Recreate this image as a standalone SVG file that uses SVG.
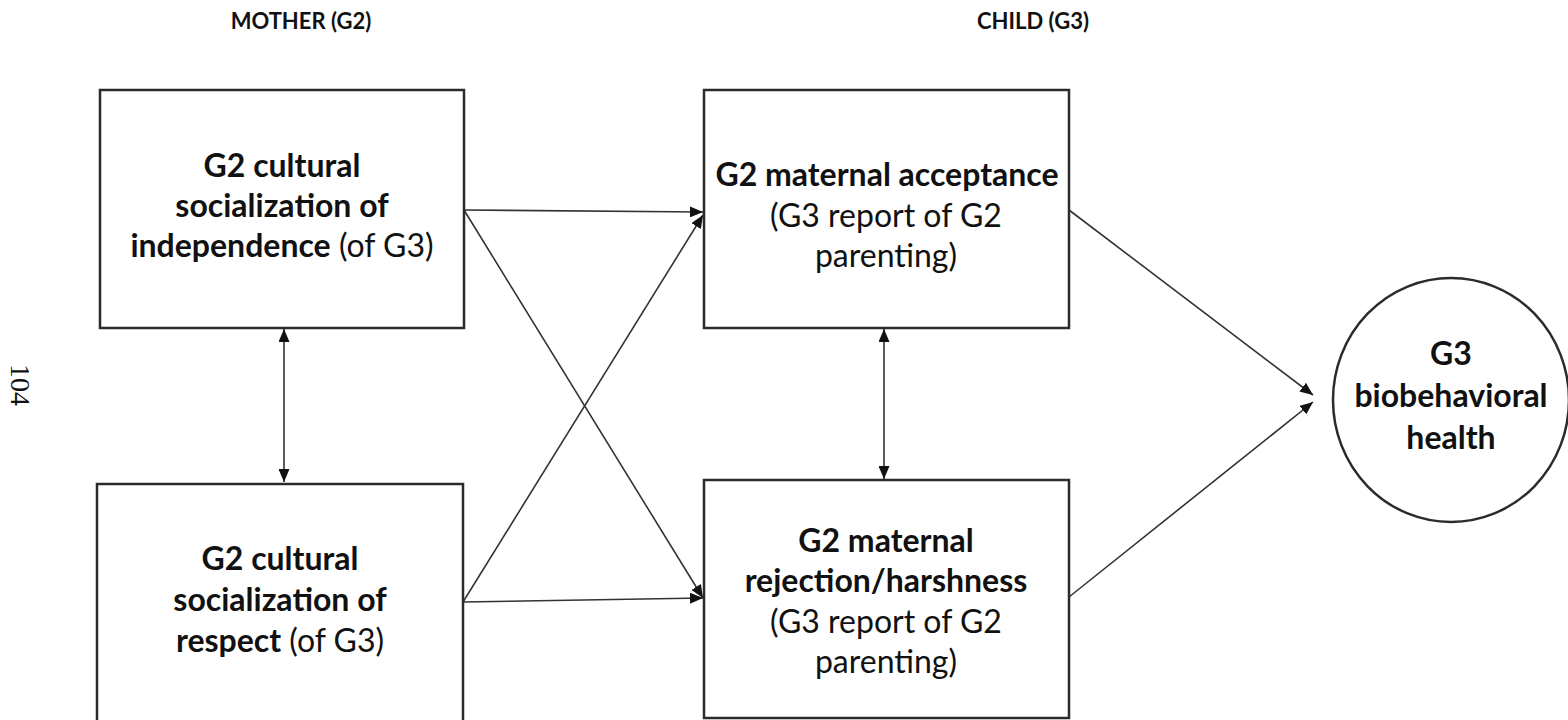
<svg xmlns="http://www.w3.org/2000/svg" width="1568" height="720" viewBox="0 0 1568 720">
  <style>
    .box { fill: #ffffff; stroke: #2b2b2b; stroke-width: 2.5; }
    .edge { fill: none; stroke: #333333; stroke-width: 1.6; }
    .t { font-family: Lato, "Open Sans", sans-serif; font-size: 32px; fill: #111; text-anchor: middle; }
    .b { font-weight: bold; }
    .hdr { font-family: Lato, "Open Sans", sans-serif; font-size: 22px; font-weight: bold; fill: #111; text-anchor: middle; }
    .pg { font-family: "Liberation Serif", serif; font-size: 28px; fill: #111; }
  </style>
  <defs>
    <marker id="arrow" viewBox="0 0 13 11" refX="13" refY="5.5" markerWidth="13" markerHeight="11" markerUnits="userSpaceOnUse" orient="auto-start-reverse">
      <path d="M0,0 L13,5.5 L0,11 z" fill="#111"/>
    </marker>
  </defs>

  <rect width="1568" height="720" fill="#ffffff"/>

  <!-- column headings -->
  <text class="hdr" x="301" y="29">MOTHER (G2)</text>
  <text class="hdr" x="1033" y="29">CHILD (G3)</text>

  <!-- page number -->
  <text class="pg" transform="translate(11,364) rotate(90)">104</text>

  <!-- connectors -->
  <g id="connectors">
    <line class="edge" x1="464" y1="210" x2="703" y2="212" marker-end="url(#arrow)"/>
    <line class="edge" x1="464" y1="210" x2="703" y2="598" marker-end="url(#arrow)"/>
    <line class="edge" x1="463" y1="602" x2="703" y2="215" marker-end="url(#arrow)"/>
    <line class="edge" x1="463" y1="602" x2="703" y2="598" marker-end="url(#arrow)"/>
    <line class="edge" x1="1069" y1="210" x2="1313" y2="395" marker-end="url(#arrow)"/>
    <line class="edge" x1="1069" y1="597" x2="1313" y2="402" marker-end="url(#arrow)"/>
    <line class="edge" x1="284" y1="329" x2="284" y2="482" marker-start="url(#arrow)" marker-end="url(#arrow)"/>
    <line class="edge" x1="884" y1="329" x2="884" y2="479" marker-start="url(#arrow)" marker-end="url(#arrow)"/>
  </g>

  <!-- independence socialization -->
  <g id="node-independence">
    <rect class="box" x="100" y="90" width="364" height="238"/>
    <text class="t b" x="282" y="177">G2 cultural</text>
    <text class="t b" x="282" y="217">socialization of</text>
    <text class="t" x="282" y="257"><tspan class="b">independence</tspan> (of G3)</text>
  </g>

  <!-- respect socialization -->
  <g id="node-respect">
    <rect class="box" x="97" y="484" width="366" height="250"/>
    <text class="t b" x="280" y="570">G2 cultural</text>
    <text class="t b" x="280" y="611">socialization of</text>
    <text class="t" x="280" y="652"><tspan class="b">respect</tspan> (of G3)</text>
  </g>

  <!-- maternal acceptance -->
  <g id="node-acceptance">
    <rect class="box" x="704" y="90" width="365" height="238"/>
    <text class="t b" x="887" y="186">G2 maternal acceptance</text>
    <text class="t" x="886" y="227">(G3 report of G2</text>
    <text class="t" x="886" y="267">parenting)</text>
  </g>

  <!-- maternal rejection -->
  <g id="node-rejection">
    <rect class="box" x="704" y="480" width="365" height="238"/>
    <text class="t b" x="886" y="552">G2 maternal</text>
    <text class="t b" x="886" y="592">rejection/harshness</text>
    <text class="t" x="886" y="633">(G3 report of G2</text>
    <text class="t" x="886" y="673">parenting)</text>
  </g>

  <!-- outcome -->
  <g id="node-health">
    <ellipse class="box" cx="1451" cy="400" rx="118" ry="122" stroke-width="2"/>
    <text class="t b" x="1451" y="365">G3</text>
    <text class="t b" x="1451" y="407">biobehavioral</text>
    <text class="t b" x="1451" y="449">health</text>
  </g>
</svg>
